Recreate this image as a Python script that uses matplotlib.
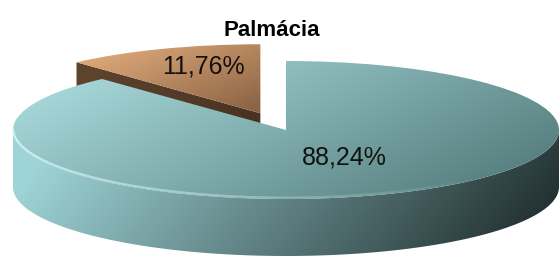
import numpy as np
import matplotlib
matplotlib.use('Agg')
import matplotlib.pyplot as plt
from matplotlib.patches import Polygon
from matplotlib.collections import LineCollection

# dados do gráfico
title = 'Palmácia'
labels = ['88,24%', '11,76%']
values = [88.24, 11.76]

W, H = 559, 259
CX, CY = 286, 130      # centro da elipse superior (px)
RX, RY = 273, 69       # semi-eixos (px)
DEPTH = 57             # espessura da pizza (px)

fig = plt.figure(figsize=(W / 100, H / 100), dpi=100)
ax = fig.add_axes([0, 0, 1, 1])

x_lo, x_hi = -CX / RX, (W - CX) / RX
y_lo, y_hi = -(H - CY) / RY, CY / RY
D = DEPTH / RY


def px(x, y):
    """pixel -> coordenadas de dados"""
    return (x - CX) / RX, (CY - y) / RY


wedges, _ = ax.pie(values, startangle=90, counterclock=False,
                   explode=[0, 0.26], radius=1, center=(0, 0),
                   wedgeprops=dict(facecolor='none', edgecolor='none'))
ax.set_aspect('auto')
teal, brown = wedges

yy, xx = np.mgrid[0:H, 0:W] + 0.5


def shade(c0, c1, t):
    t = np.clip(t, 0, 1)[..., None]
    return (np.array(c0) * (1 - t) + np.array(c1) * t) / 255.0


def paint(img, patch, z):
    im = ax.imshow(img, extent=(x_lo, x_hi, y_lo, y_hi), origin='upper',
                   interpolation='bilinear', aspect='auto', zorder=z)
    im.set_clip_path(patch)


# face lateral da fatia destacada (marrom)
bc = np.array(brown.center)
a = np.deg2rad(brown.theta2)
edge = bc + np.array([np.cos(a), np.sin(a)])
bside = Polygon([bc, edge, edge - [0, D], bc - [0, D]], closed=True,
                facecolor='none', edgecolor='none', transform=ax.transData)
ax.add_patch(bside)
paint(shade((95, 68, 45), (70, 50, 34), (xx - 80) / 190), bside, 1)

# topo marrom
paint(shade((235, 180, 130), (140, 100, 68),
            0.55 * (xx - 80) / 185 + 0.6 * (yy - 40) / 85), brown, 2)

# lateral da fatia principal
t = np.linspace(np.pi, 2 * np.pi, 200)
top = np.column_stack([np.cos(t), np.sin(t)])
bot = top[::-1] - [0, D]
tside = Polygon(np.vstack([top, bot]), closed=True, facecolor='none',
                edgecolor='none', transform=ax.transData)
ax.add_patch(tside)
paint(shade((158, 212, 215), (34, 48, 48),
            (xx - 12) / 546 + 0.08 * (yy - 200) / 57), tside, 3)

# topo da fatia principal
paint(shade((178, 228, 230), (84, 124, 124),
            0.72 * (xx - 12) / 546 + 0.38 * (yy - 62) / 140), teal, 4)

# brilho na borda frontal
t2 = np.linspace(np.pi * 1.0, np.pi * 1.75, 120)
pts = np.column_stack([np.cos(t2), np.sin(t2) + 0.02])
segs = np.stack([pts[:-1], pts[1:]], axis=1)
alph = np.linspace(0.9, 0.0, len(segs))
cols = [(0.85, 0.98, 0.98, al) for al in alph]
ax.add_collection(LineCollection(segs, colors=cols, linewidths=1.6, zorder=5))

# rótulos
ax.text(*px(344, 158), labels[0], ha='center', va='center', fontsize=18,
        family='Liberation Sans', color='#111111', zorder=6)
ax.text(*px(203, 67), labels[1], ha='center', va='center', fontsize=18,
        family='Liberation Sans', color='#111111', zorder=6)
ax.text(*px(272, 31), title, ha='center', va='center', fontsize=16,
        fontweight='bold', family='Liberation Sans', color='black', zorder=6)

ax.set_xlim(x_lo, x_hi)
ax.set_ylim(y_lo, y_hi)
ax.axis('off')

fig.savefig('out.png', dpi=100)
